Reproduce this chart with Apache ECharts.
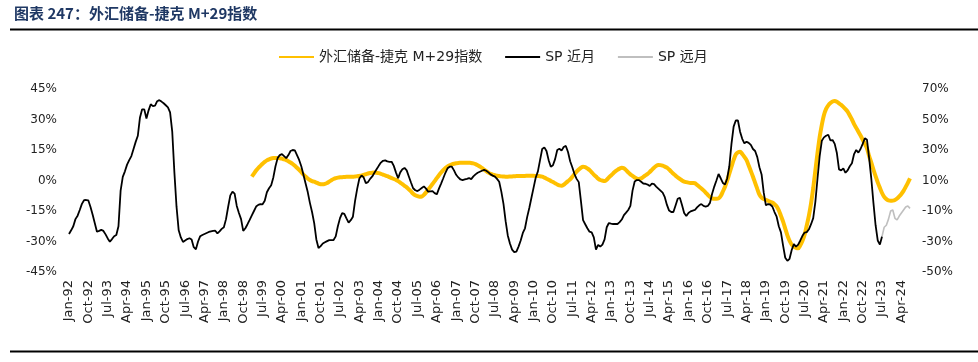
<!DOCTYPE html>
<html><head><meta charset="utf-8">
<script src="https://cdn.jsdelivr.net/npm/echarts@6/dist/echarts.min.js"></script>
<style>html,body{margin:0;padding:0;background:#fff}#c{width:978px;height:362px}</style>
</head><body><div id="c"></div>
<script>
// ---- data ----
const titleText = '图表 247：外汇储备-捷克 M+29指数';
const seriesNames = ['外汇储备-捷克 M+29指数', 'SP 近月', 'SP 远月'];
const monthNames = ['Jan','Feb','Mar','Apr','May','Jun','Jul','Aug','Sep','Oct','Nov','Dec'];
const firstYear = 1992;
const monthCount = 392; // Jan-92 .. Aug-24
const leftTicks = { min: -45, max: 45, step: 15 };
const rightTicks = { min: -50, max: 70, step: 20 };

// SP 近月 (left axis, %), monthly from Jan-92
const spNear = [
-26.3,-24.5,-22.5,-19,-17.3,-14.5,-11.5,-9.7,-9.6,-9.8,-13,-16.8,
-21,-25.2,-24.8,-24.3,-24.8,-26.5,-28.5,-30.1,-28.8,-27.4,-26.8,-22.5,
-5,1.8,4.5,7.8,10,12,15.5,19,22,31,35,35,
30.5,34.5,37.5,36.6,36.8,39,39.5,38.8,38,37,36,33.5,
24,4,-13,-24.5,-28,-30.2,-29.5,-28.8,-28.4,-29,-32.8,-33.8,
-30,-27.4,-26.8,-26.3,-25.8,-25.3,-25,-24.8,-24.7,-26,-25,-23.8,
-23,-19,-12.9,-7.3,-5.5,-6.5,-12.5,-16,-19,-24.8,-23.5,-21.5,
-19.4,-17.2,-15,-12.8,-12,-11.6,-11.7,-10,-5.8,-3.8,-2.3,1.5,
7,11,12.5,13,12,11,12.5,14.5,15,14.8,12.5,10.1,
7,2.8,-1.5,-5.7,-11,-15.5,-21,-29,-33.2,-32.3,-31,-30.4,
-29.8,-29.3,-29.3,-29.3,-27.5,-22.5,-18.5,-16,-16.4,-18.6,-20.7,-19.5,
-17.8,-10,-4,1,2.5,1.5,-1.3,-0.8,0.8,2,3.8,5.5,
7.2,8.8,9.7,9.9,9.4,9.2,9.2,7.2,4,1.1,4,5.5,
6.2,5,2,-1,-3.8,-4.8,-5.2,-4.5,-3.7,-2.9,-4,-5.5,
-5.3,-5.2,-6.2,-6.8,-4,-1.5,1.1,3.8,6,6.8,6.8,5,
2.8,1.5,0.5,0.2,0.5,0.8,1.2,0.7,2,3,3.8,4.3,
4.8,5.2,4.8,4,3,2.4,1.9,0.8,-0.6,-5.5,-11.5,-20,
-27,-31,-34,-35.2,-35,-32.5,-29.5,-25.8,-23.5,-18,-13.5,-8.5,
-3.5,1.5,4.5,10,15.5,16.3,14.5,10,6.8,7.5,10.5,15,
15.6,14.7,16.5,17,14,9.5,6.5,3.2,0.8,-0.8,-10,-19.5,
-21.5,-23.5,-25.2,-25.5,-28,-34,-31.7,-32.5,-31.5,-29,-23,-20.9,
-21.2,-21.4,-21.4,-21.4,-20.5,-19.2,-17,-15.8,-14.5,-12.5,-5,-0.5,
0.2,0.2,-0.6,-1.5,-1.6,-2,-2.7,-1.5,-1.8,-3,-4,-5,
-6,-8.2,-12,-14.8,-15.5,-15.5,-12.3,-9,-8.5,-12,-16,-17.5,
-16,-15.2,-14.8,-14.5,-13.2,-12.2,-11.6,-12.5,-12.8,-12.5,-11,-6.5,
-3,0,3.2,1.1,-1.2,-2,1,7,18,26.5,29.5,29.5,
24,20.5,18.3,19.1,18.5,17.5,15.5,14.5,11.5,6.5,3,-6,
-12.2,-11.6,-11.8,-12.8,-15.5,-17.8,-22.5,-25.5,-32,-38,-39.5,-38.5,
-34.2,-31.3,-32.5,-31.5,-29.5,-27.2,-25.6,-25.4,-24,-21.5,-18.5,-10.5,
1,12,19.5,21.2,22,22.5,19.7,19.9,18,13.5,5.5,5,
6,3.8,5,7,8.5,13,15,13.7,15.5,18,20.8,20,
11,1,-11,-22,-29.5,-31.5,-27.5
];

// SP 远月 (left axis, %), monthly from Jul-23
const spFarStart = 'Jul-23';
const spFar = [-27.5,-23,-22,-19,-15,-14.5,-18.6,-19.4,-17.5,-16,-14.5,-13,-12.5,-13.7];

// 外汇储备-捷克 M+29指数 (right axis, %), monthly from Feb-99
const reserveStart = 'Feb-99';
const reserve = [
12.5,14.5,16.5,18.2,19.6,21,22.2,23.2,23.9,24.4,24.7,
24.8,24.7,24.6,24.3,23.8,23.4,22.6,21.8,20.8,19.6,18.3,17,
15.4,13.9,12.6,11.3,10.3,9.6,9.2,8.6,8,7.6,7.5,7.8,
8.4,9.3,10.2,11,11.5,11.9,12.1,12.2,12.3,12.4,12.4,12.4,
12.4,12.6,12.8,13,13.2,13.6,14.1,14.6,14.9,15.1,15.2,15.1,
14.8,14.4,13.9,13.3,12.8,12.2,11.6,11,10.4,9.6,8.6,7.6,
6.5,5.5,4.2,2.8,1.3,0.3,-0.3,-0.6,-0.5,0.6,2.2,4,
5.8,7.7,9.6,11.6,13.5,15.2,16.8,18.2,19.2,20,20.6,21,
21.3,21.5,21.6,21.7,21.7,21.7,21.6,21.5,21.2,20.7,20,19.2,
18.2,17.2,16.2,15.2,14.4,13.9,13.5,13.1,12.9,12.7,12.6,12.5,
12.5,12.6,12.7,12.8,12.9,13,13,13,13,13.1,13.1,13.1,
13.1,13,12.9,12.8,12.5,11.9,11.2,10.5,9.7,9,8.2,7.4,
6.8,6.6,7.2,8.4,9.6,10.7,12.4,14.2,15.8,17.2,18.4,19,
18.8,17.9,16.9,15.4,13.9,12.6,11.2,10.3,9.9,9.6,10.5,12,
13.3,14.7,16,17,17.8,18.4,18,16.8,15.3,14,13,12,
11.3,11,11.4,12.3,13.4,14.3,15.6,17,18.4,19.6,20.2,20.1,
19.7,19.1,18.4,17.2,15.8,14.4,13.2,12,11,10,9.3,8.9,
8.6,8.4,8.3,8.2,7.1,5.9,4.8,3.5,2.1,0.6,-0.8,-1.7,
-2,-2,-1.7,-0.2,2.8,5.9,10,14.5,19,23.5,27,28.4,
28.9,27.4,25.5,23.4,19.8,16.2,12.5,8.5,4.5,0.7,-1.2,-2.2,
-2.7,-3.3,-4,-4.5,-5.5,-7,-9.5,-13.2,-17,-21.5,-26,-29.5,
-32,-33.4,-34.2,-34.5,-32.5,-29.5,-25.5,-19.5,-13,-5,5,16.5,
28,38.5,46.5,53,57,59.3,60.8,61.8,62.1,61.6,60.6,59.6,
58.3,56.8,55.2,52.6,50,47,44.5,42,39.5,36.8,34,31.1,
26,21.8,17.2,12.8,8.8,5.2,1.8,-0.8,-2.2,-3.1,-3.3,-3.2,
-2.8,-1.8,-0.4,1.2,3.2,5.8,8.5,11.4
];

// ---- build ----
const categories = [];
for (let i = 0; i < monthCount; i++) {
  const y = (firstYear + Math.floor(i / 12)) % 100;
  categories.push(monthNames[i % 12] + '-' + String(y).padStart(2, '0'));
}
function place(values, startCat) {
  const s = categories.indexOf(startCat);
  const out = new Array(monthCount).fill(null);
  values.forEach((v, k) => { if (s + k < monthCount) out[s + k] = v; });
  return out;
}
const nearData = place(spNear, 'Jan-92');
const farData = place(spFar, spFarStart);
const reserveData = place(reserve, reserveStart);

const axisFont = "'DejaVu Sans', 'Noto Sans CJK SC', sans-serif";
const chart = echarts.init(document.getElementById('c'), null, { renderer: 'canvas' });
chart.setOption({
  animation: false,
  backgroundColor: '#fff',
  graphic: [
    { type: 'text', left: 14, top: 6, style: { text: titleText, font: "bold 15px 'Noto Sans CJK SC', sans-serif", fill: '#1F3864' } },
    { type: 'line', shape: { x1: 10, y1: 29.5, x2: 978, y2: 29.5 }, style: { stroke: '#000', lineWidth: 2 } },
    { type: 'line', shape: { x1: 10, y1: 351.5, x2: 978, y2: 351.5 }, style: { stroke: '#000', lineWidth: 2 } }
  ],
  legend: {
    top: 45, left: 273,
    itemWidth: 35, itemHeight: 12, itemGap: 22,
    itemStyle: { opacity: 0 },
    textStyle: { fontSize: 14, color: '#222', fontFamily: axisFont },
    data: seriesNames
  },
  grid: { left: 69, right: 68, top: 89, bottom: 90 },
  xAxis: {
    type: 'category', boundaryGap: false, data: categories,
    axisLine: { show: false }, axisTick: { show: false },
    axisLabel: { interval: 8, rotate: 90, fontSize: 13, color: '#222', margin: 8, fontFamily: axisFont },
    splitLine: { show: false }
  },
  yAxis: [
    { type: 'value', min: leftTicks.min, max: leftTicks.max, interval: leftTicks.step,
      axisLine: { show: false }, axisTick: { show: false }, splitLine: { show: false },
      axisLabel: { formatter: '{value}%', fontSize: 12, color: '#222', margin: 12, fontFamily: axisFont } },
    { type: 'value', min: rightTicks.min, max: rightTicks.max, interval: rightTicks.step, position: 'right',
      axisLine: { show: false }, axisTick: { show: false }, splitLine: { show: false },
      axisLabel: { formatter: '{value}%', fontSize: 12, color: '#222', margin: 12, fontFamily: axisFont } }
  ],
  series: [
    { name: seriesNames[0], type: 'line', yAxisIndex: 1, data: reserveData, symbol: 'none', smooth: 0.3,
      lineStyle: { color: '#FFC000', width: 4 }, itemStyle: { color: '#FFC000' } },
    { name: seriesNames[1], type: 'line', yAxisIndex: 0, data: nearData, symbol: 'none',
      lineStyle: { color: '#000', width: 1.8 }, itemStyle: { color: '#000' } },
    { name: seriesNames[2], type: 'line', yAxisIndex: 0, data: farData, symbol: 'none',
      lineStyle: { color: '#BFBFBF', width: 1.6 }, itemStyle: { color: '#BFBFBF' } }
  ]
});
</script></body></html>
